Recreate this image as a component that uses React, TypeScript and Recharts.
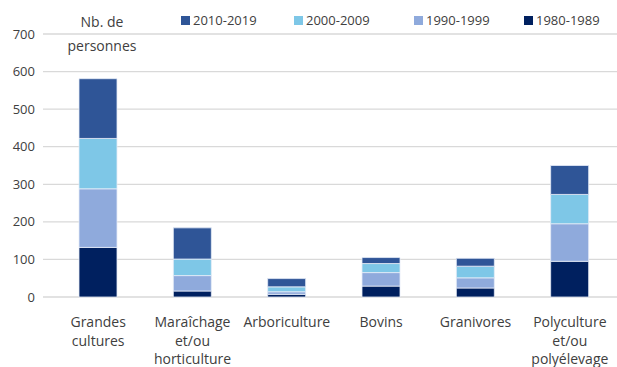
import { BarChart, Bar, XAxis, YAxis, CartesianGrid } from 'recharts';

const categories = [
  'Grandes cultures',
  'Maraîchage et/ou horticulture',
  'Arboriculture',
  'Bovins',
  'Granivores',
  'Polyculture et/ou polyélevage',
];

const s1980 = [132, 16, 7, 29, 24, 95];
const s1990 = [156, 41, 7, 36, 27, 100];
const s2000 = [134, 44, 13, 24, 31, 78];
const s2010 = [159, 83, 22, 16, 21, 77];

const yTicks = [0, 100, 200, 300, 400, 500, 600, 700];

// stacked bottom to top
const series = [
  { key: 'd1980', name: '1980-1989', values: s1980, color: '#00205f' },
  { key: 'd1990', name: '1990-1999', values: s1990, color: '#8faadc' },
  { key: 'd2000', name: '2000-2009', values: s2000, color: '#7ec7e7' },
  { key: 'd2010', name: '2010-2019', values: s2010, color: '#2f5597' },
];

const data = categories.map((cat, i) => {
  const row: Record<string, string | number> = { cat };
  series.forEach((s) => {
    row[s.key] = s.values[i];
  });
  return row;
});

const FONT = '"Open Sans", sans-serif';

const CategoryTick = (props: any) => {
  const { x, y, payload } = props;
  const lines = String(payload.value).split(' ');
  return (
    <text x={x} y={y} textAnchor="middle" fill="#404040" fontSize={14} fontFamily={FONT}>
      {lines.map((ln, i) => (
        <tspan key={i} x={x} dy={i === 0 ? 22 : 18.5}>
          {ln}
        </tspan>
      ))}
    </text>
  );
};

const legendPos = [181, 294, 414, 524];

const App = () => {
  const legendItems = [...series].reverse();
  return (
    <div style={{ position: 'absolute', left: 0, top: 0, width: 617, height: 367, background: '#fff', fontFamily: FONT }}>
      <BarChart width={617} height={367} data={data} margin={{ top: 34, right: 0, bottom: 10, left: 0 }}>
        <CartesianGrid vertical={false} stroke="#d9d9d9" strokeWidth={1.3} />
        <XAxis
          dataKey="cat"
          axisLine={false}
          tickLine={false}
          interval={0}
          height={60}
          padding={{ left: 8, right: 0 }}
          tick={<CategoryTick />}
        />
        <YAxis
          domain={[0, 700]}
          ticks={yTicks}
          axisLine={false}
          tickLine={false}
          width={43}
          tick={{ fill: '#404040', fontSize: 13, fontFamily: FONT }}
        />
        {series.map((s) => (
          <Bar
            key={s.key}
            dataKey={s.key}
            name={s.name}
            stackId="a"
            fill={s.color}
            stroke="#e6ecf7"
            strokeWidth={0.8}
            barSize={38}
            isAnimationActive={false}
          />
        ))}
      </BarChart>

      <div style={{ position: 'absolute', left: 62, top: 10, width: 80, textAlign: 'center', color: '#404040', fontSize: 14, lineHeight: '24px' }}>
        Nb. de
        <br />
        personnes
      </div>

      {legendItems.map((s, i) => (
        <div
          key={s.key}
          style={{ position: 'absolute', left: legendPos[i], top: 11, display: 'flex', alignItems: 'center', fontSize: 13, color: '#404040' }}
        >
          <span style={{ display: 'inline-block', width: 9, height: 9, background: s.color, marginRight: 3 }} />
          {s.name}
        </div>
      ))}
    </div>
  );
};

export default App;
